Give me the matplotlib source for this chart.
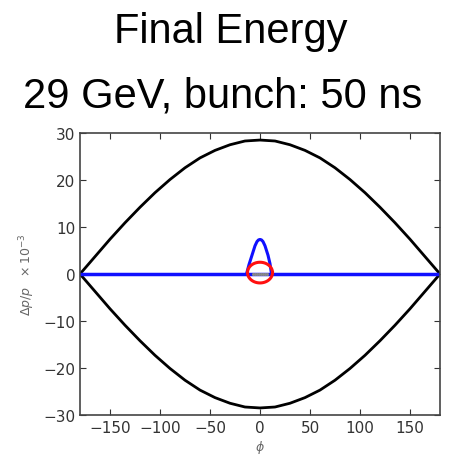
import matplotlib
matplotlib.use("Agg")
import matplotlib.pyplot as plt
import numpy as np

# separatrix (black)
sep_phi = [-180, -165, -150, -135, -120, -105, -90, -75, -60, -45, -30, -15, 0,
           15, 30, 45, 60, 75, 90, 105, 120, 135, 150, 165, 180]
sep_upper = [0, 3.7, 7.4, 10.9, 14.2, 17.3, 20.1, 22.6, 24.7, 26.3, 27.5, 28.3, 28.5,
             28.3, 27.5, 26.3, 24.7, 22.6, 20.1, 17.3, 14.2, 10.9, 7.4, 3.7, 0]
sep_lower = [0, -3.7, -7.4, -10.9, -14.2, -17.3, -20.1, -22.6, -24.7, -26.3, -27.5, -28.3, -28.5,
             -28.3, -27.5, -26.3, -24.7, -22.6, -20.1, -17.3, -14.2, -10.9, -7.4, -3.7, 0]

# blue: flat line plus the small bucket around phi = 0
flat_phi = [-180, 180]
flat_dp = [0, 0]
bump_phi = [-13.5, -11, -8, -5, -3, -1.5, 0, 1.5, 3, 5, 8, 10, 11.5]
bump_dp = [0, 2.0, 4.0, 6.0, 6.9, 7.25, 7.35, 7.25, 6.9, 6.0, 4.0, 2.2, 0]

# red bunch outline (ellipse)
bunch_center = (0.0, 0.3)
bunch_half_width = 12.5
bunch_half_height = 2.2

# particles inside the bunch
dots_phi = [-7, -5, -3, -1, 1, 3, 5, 7]
dots_dp = [0.1, 0.0, 0.1, 0.0, 0.1, 0.0, 0.1, 0.0]

fig = plt.figure(figsize=(4.7, 4.56), dpi=100)
ax = fig.add_axes([80 / 470, 1 - 416 / 456, 360 / 470, 282 / 456])

ax.plot(sep_phi, sep_upper, color="black", lw=2)
ax.plot(sep_phi, sep_lower, color="black", lw=2)
ax.plot(flat_phi, flat_dp, color="#1010ff", lw=2.5)
ax.plot(bump_phi, bump_dp, color="#1010ff", lw=2.2)

t = np.linspace(0, 2 * np.pi, 100)
ax.plot(bunch_center[0] + bunch_half_width * np.cos(t),
        bunch_center[1] + bunch_half_height * np.sin(t), color="#ff1010", lw=2.2)
ax.scatter(dots_phi, dots_dp, s=1.5, color="#888888", zorder=5)

ax.set_xlim(-180, 180)
ax.set_ylim(-30, 30)
ax.set_xticks([-150, -100, -50, 0, 50, 100, 150])
ax.set_yticks([-30, -20, -10, 0, 10, 20, 30])
ax.tick_params(direction="in", top=True, right=True, length=4, labelsize=11,
               colors="#333333", labelcolor="#333333")
for s in ax.spines.values():
    s.set_color("#444444")
    s.set_linewidth(1.2)

ax.set_xlabel(r"$\phi$", fontsize=9, color="#666666", labelpad=2)
ax.set_ylabel(r"$\Delta p/p\ \ \times 10^{-3}$", fontsize=9, color="#666666", labelpad=4)

fig.text(231 / 470, 1 - 43 / 456, "Final Energy", ha="center", va="baseline",
         fontsize=30, family="Liberation Sans")
fig.text(223 / 470, 1 - 108 / 456, "29 GeV, bunch: 50 ns", ha="center", va="baseline",
         fontsize=30, family="Liberation Sans")

fig.savefig("out.png", dpi=100)
